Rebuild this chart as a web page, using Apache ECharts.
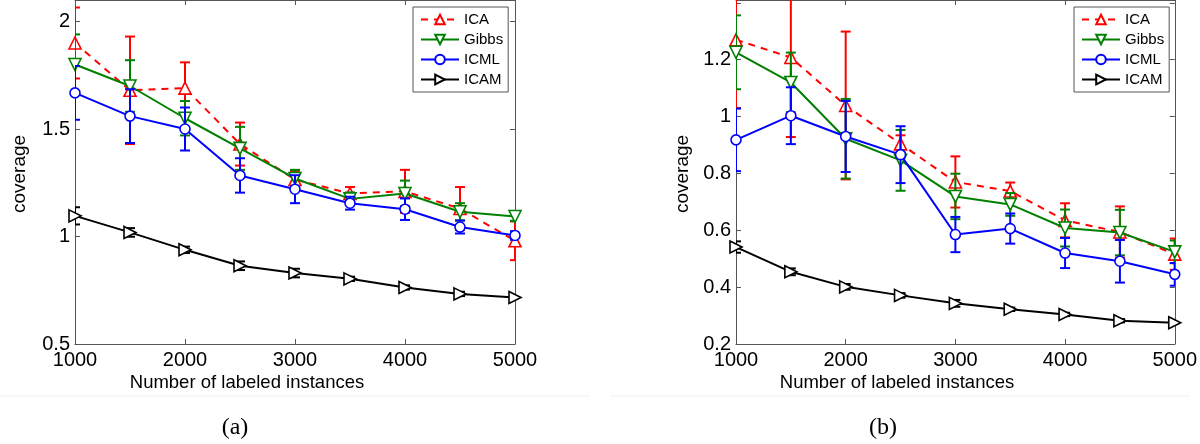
<!DOCTYPE html>
<html>
<head>
<meta charset="utf-8">
<script src="https://cdn.jsdelivr.net/npm/echarts@6/dist/echarts.min.js"></script>
<style>
  html, body { margin: 0; padding: 0; background: #fff; }
  #main { width: 1200px; height: 444px; }
</style>
</head>
<body>
<div id="main"></div>
<script type="text/javascript">
var sizes = [1000, 1500, 2000, 2500, 3000, 3500, 4000, 4500, 5000];
var names = ['ICA', 'Gibbs', 'ICML', 'ICAM'];

// (a)
var icaA = [1.90, 1.68, 1.69, 1.43, 1.265, 1.20, 1.21, 1.13, 0.98];
var icaAErr = [0.165, 0.25, 0.12, 0.10, 0.04, 0.03, 0.10, 0.10, 0.09];
var gibbsA = [1.80, 1.70, 1.55, 1.41, 1.27, 1.175, 1.20, 1.115, 1.093];
var gibbsAErr = [0.14, 0.12, 0.08, 0.10, 0.04, 0.03, 0.06, 0.04, 0.02];
var icmlA = [1.668, 1.56, 1.50, 1.284, 1.22, 1.155, 1.127, 1.044, 1.005];
var icmlAErr = [0.125, 0.125, 0.10, 0.08, 0.065, 0.03, 0.05, 0.03, 0.02];
var icamA = [1.096, 1.019, 0.938, 0.864, 0.83, 0.803, 0.763, 0.733, 0.716];
var icamAErr = [0.04, 0.02, 0.015, 0.02, 0.02, 0.01, 0.01, 0.01, 0.005];

// (b)
var icaB = [1.27, 1.208, 1.039, 0.904, 0.77, 0.738, 0.635, 0.594, 0.516];
var icaBErr = [0.24, 0.28, 0.26, 0.03, 0.09, 0.03, 0.06, 0.09, 0.055];
var gibbsB = [1.226, 1.12, 0.922, 0.846, 0.719, 0.691, 0.608, 0.592, 0.524];
var gibbsBErr = [0.13, 0.105, 0.14, 0.107, 0.08, 0.04, 0.065, 0.08, 0.04];
var icmlB = [0.918, 1.003, 0.93, 0.866, 0.585, 0.606, 0.52, 0.491, 0.445];
var icmlBErr = [0.11, 0.10, 0.125, 0.10, 0.062, 0.053, 0.053, 0.075, 0.04];
var icamB = [0.541, 0.454, 0.401, 0.371, 0.343, 0.322, 0.304, 0.282, 0.275];
var icamBErr = [0.02, 0.012, 0.01, 0.008, 0.012, 0.006, 0.006, 0.006, 0.004];

var yTicksA = [0.5, 1, 1.5, 2];
var yTicksB = [0.2, 0.4, 0.6, 0.8, 1, 1.2];

var font = 'Liberation Sans, Arial, Helvetica, sans-serif';
var colors = ['#ff0000', '#008000', '#0000ff', '#000000'];
var symbols = ['triangle', 'path://M0,0L10,0L5,9Z', 'circle', 'path://M0,0L9,5L0,10Z'];
var symbolSizes = [12, 12, 10, 12];

function pairs(vals) {
  return sizes.map(function (x, i) { return [x, vals[i]]; });
}
function bars(vals, errs) {
  return sizes.map(function (x, i) { return [x, vals[i] - errs[i], vals[i] + errs[i]]; });
}

function errItem(params, api) {
  var x = api.value(0);
  var top = api.coord([x, api.value(2)]);
  var bot = api.coord([x, api.value(1)]);
  var w = 5;
  var st = { stroke: api.visual('color'), lineWidth: 2 };
  return {
    type: 'group',
    children: [
      { type: 'line', shape: { x1: top[0], y1: top[1], x2: bot[0], y2: bot[1] }, style: st },
      { type: 'line', shape: { x1: top[0] - w, y1: top[1], x2: top[0] + w, y2: top[1] }, style: st },
      { type: 'line', shape: { x1: bot[0] - w, y1: bot[1], x2: bot[0] + w, y2: bot[1] }, style: st }
    ]
  };
}

function xAxes(grid, top) {
  return {
    type: 'value', gridIndex: grid, position: top ? 'top' : 'bottom',
    min: 1000, max: 5000, interval: 1000,
    axisLine: { show: true, onZero: false, lineStyle: { color: '#555', width: 1 } },
    axisTick: { show: true, inside: true, length: 5, lineStyle: { color: '#555' } },
    axisLabel: {
      show: !top, color: '#000', fontSize: 20, fontFamily: font, margin: 6,
      formatter: function (v) { return String(v); }
    },
    splitLine: { show: false }
  };
}
function yAxes(grid, right, min, max, step, ticks) {
  return {
    type: 'value', gridIndex: grid, position: right ? 'right' : 'left',
    min: min, max: max, interval: step,
    axisLine: { show: true, onZero: false, lineStyle: { color: '#555', width: 1 } },
    axisTick: { show: true, inside: true, length: 5, lineStyle: { color: '#555' } },
    axisLabel: {
      show: !right, color: '#000', fontSize: 20, fontFamily: font, margin: 5,
      formatter: function (v) {
        for (var i = 0; i < ticks.length; i++) {
          if (Math.abs(ticks[i] - v) < 1e-6) return String(ticks[i]);
        }
        return '';
      }
    },
    splitLine: { show: false }
  };
}

function makeSeries(axis, vals, errs) {
  var out = [];
  for (var k = 0; k < names.length; k++) {
    out.push({
      name: names[k] + ' err',
      type: 'custom',
      xAxisIndex: axis, yAxisIndex: axis,
      clip: true,
      itemStyle: { color: colors[k] },
      renderItem: errItem,
      data: bars(vals[k], errs[k]),
      z: 2 + k
    });
    out.push({
      name: names[k],
      type: 'line',
      xAxisIndex: axis, yAxisIndex: axis,
      data: pairs(vals[k]),
      symbol: symbols[k],
      symbolSize: symbolSizes[k],
      showAllSymbol: true,
      clip: true,
      lineStyle: { color: colors[k], width: 2, type: k === 0 ? [7, 6] : 'solid' },
      itemStyle: { color: '#fff', borderColor: colors[k], borderWidth: 1.6 },
      emphasis: { disabled: true },
      z: 2 + k
    });
  }
  return out;
}

function legendBox(left) {
  return {
    left: left, top: 7, orient: 'vertical', data: names,
    itemWidth: 38, itemHeight: 12, itemGap: 5,
    padding: [5, 5, 5, 7],
    borderColor: '#555', borderWidth: 1, borderRadius: 0,
    backgroundColor: '#fff',
    selectedMode: false,
    textStyle: { color: '#000', fontSize: 15, fontFamily: font }
  };
}

function label(text, x, y, size, rot, fam) {
  return {
    type: 'text', x: x, y: y, rotation: rot || 0,
    style: {
      text: text, fill: '#000', font: size + 'px ' + (fam || font),
      textAlign: 'center', textVerticalAlign: 'middle'
    }
  };
}

var myChart = echarts.init(document.getElementById('main'), null, { renderer: 'canvas' });
var option = {
  animation: false,
  backgroundColor: '#fff',
  grid: [
    { left: 75, top: 0, width: 440, height: 344 },
    { left: 736, top: 0, width: 440, height: 344 }
  ],
  xAxis: [xAxes(0, false), xAxes(0, true), xAxes(1, false), xAxes(1, true)],
  yAxis: [
    yAxes(0, false, 0.5, 2.1, 0.5, yTicksA),
    yAxes(0, true, 0.5, 2.1, 0.5, yTicksA),
    yAxes(1, false, 0.2, 1.41, 0.2, yTicksB),
    yAxes(1, true, 0.2, 1.41, 0.2, yTicksB)
  ],
  legend: [legendBox(413), legendBox(1074)],
  series: makeSeries(0, [icaA, gibbsA, icmlA, icamA], [icaAErr, gibbsAErr, icmlAErr, icamAErr])
    .concat(makeSeries(2, [icaB, gibbsB, icmlB, icamB], [icaBErr, gibbsBErr, icmlBErr, icamBErr])),
  graphic: [
    label('coverage', 20, 174, 19, Math.PI / 2),
    label('coverage', 683, 174, 19, Math.PI / 2),
    label('Number of labeled instances', 247, 383, 18.5),
    label('Number of labeled instances', 897, 383, 18.5),
    { type: 'line', shape: { x1: 0, y1: 396, x2: 590, y2: 396 }, style: { stroke: '#f0f0f0', lineWidth: 1 } },
    { type: 'line', shape: { x1: 610, y1: 396, x2: 1190, y2: 396 }, style: { stroke: '#f0f0f0', lineWidth: 1 } },
    label('(a)', 235, 428, 24, 0, 'Liberation Serif, DejaVu Serif, serif'),
    label('(b)', 883, 428, 24, 0, 'Liberation Serif, DejaVu Serif, serif')
  ]
};
myChart.setOption(option);
</script>
</body>
</html>
